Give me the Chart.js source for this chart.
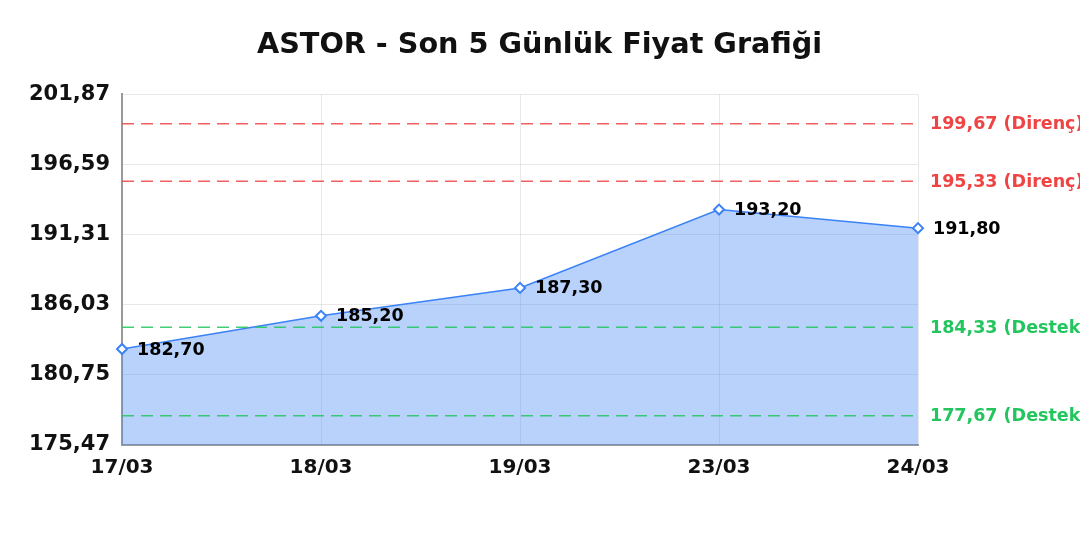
<!DOCTYPE html>
<html>
<head>
<meta charset="utf-8">
<script src="https://cdn.jsdelivr.net/npm/chart.js@4"></script>
<style>
html,body{margin:0;padding:0;background:#fff;}
#wrap{width:1080px;height:540px;}
</style>
</head>
<body>
<div id="wrap"><canvas id="c" width="1080" height="540"></canvas></div>
<script>
const titleText = 'ASTOR - Son 5 Günlük Fiyat Grafiği';
const categories = ['17/03', '18/03', '19/03', '23/03', '24/03'];
const prices = [182.70, 185.20, 187.30, 193.20, 191.80];
const yTicks = [175.47, 180.75, 186.03, 191.31, 196.59, 201.87];
const resistanceLevels = [199.67, 195.33];
const supportLevels = [184.33, 177.67];

const fmt = v => v.toFixed(2).replace('.', ',');
const FONT = "DejaVu Sans, Verdana, sans-serif";
const RED = '#ef4444';
const GREEN = '#22c55e';
const BLUE = '#3b82f6';

const levelDatasets = [];
resistanceLevels.forEach(l => levelDatasets.push({
  label: fmt(l) + ' (Direnç)', data: categories.map(() => l), levelValue: l, levelColor: RED,
  borderColor: 'rgba(239,68,68,0.85)', borderWidth: 1.5, borderDash: [12, 7], pointRadius: 0, fill: false, order: 0
}));
supportLevels.forEach(l => levelDatasets.push({
  label: fmt(l) + ' (Destek)', data: categories.map(() => l), levelValue: l, levelColor: GREEN,
  borderColor: 'rgba(34,197,94,0.85)', borderWidth: 1.5, borderDash: [12, 7], pointRadius: 0, fill: false, order: 0
}));

const labelsPlugin = {
  id: 'labelsPlugin',
  afterDatasetsDraw(chart) {
    const ctx = chart.ctx;
    const y = chart.scales.y;
    const area = chart.chartArea;
    ctx.save();
    const meta = chart.getDatasetMeta(0);
    ctx.font = "bold 17.5px " + FONT;
    ctx.fillStyle = '#000';
    ctx.textAlign = 'left';
    ctx.textBaseline = 'middle';
    meta.data.forEach((pt, i) => {
      ctx.fillText(fmt(prices[i]), pt.x + 15, pt.y + 1);
    });
    chart.data.datasets.forEach(ds => {
      if (ds.levelValue === undefined) return;
      ctx.fillStyle = ds.levelColor;
      ctx.fillText(ds.label, area.right + 12, y.getPixelForValue(ds.levelValue) + 1);
    });
    ctx.restore();
  }
};

new Chart(document.getElementById('c'), {
  type: 'line',
  data: {
    labels: categories,
    datasets: [{
      label: 'Fiyat',
      data: prices,
      borderColor: BLUE,
      borderWidth: 1.5,
      backgroundColor: 'rgba(59,130,246,0.36)',
      fill: 'start',
      tension: 0,
      pointStyle: 'rectRot',
      pointRadius: 5,
      pointBorderWidth: 2,
      pointBackgroundColor: '#fff',
      pointBorderColor: BLUE,
      order: 1
    }, ...levelDatasets]
  },
  options: {
    responsive: false,
    animation: false,
    layout: { padding: { left: 17, right: 18, top: 0, bottom: 49 } },
    plugins: {
      legend: { display: false },
      tooltip: { enabled: false },
      title: {
        display: true, text: titleText, color: '#111',
        font: { family: FONT, size: 28.7, weight: 'bold' },
        padding: { top: 28, bottom: 32 }
      }
    },
    scales: {
      x: {
        offset: false,
        grid: { color: 'rgba(0,0,0,0.09)', drawTicks: false },
        border: { color: '#999', width: 2 },
        ticks: { color: '#111', font: { family: FONT, size: 20, weight: 'bold' }, padding: 11, maxRotation: 0 }
      },
      y: {
        min: yTicks[0], max: yTicks[yTicks.length - 1],
        afterBuildTicks: s => { s.ticks = yTicks.map(v => ({ value: v })); },
        grid: { color: 'rgba(0,0,0,0.09)', drawTicks: false },
        border: { color: '#999', width: 2 },
        ticks: { color: '#111', font: { family: FONT, size: 21, weight: 'bold' }, padding: 12,
          callback: v => fmt(v) }
      },
      yLabels: {
        type: 'linear', position: 'right', display: true,
        min: yTicks[0], max: yTicks[yTicks.length - 1],
        grid: { display: false, drawTicks: false },
        border: { display: false },
        ticks: { display: false },
        afterFit: s => { s.width = 144; }
      }
    }
  },
  plugins: [labelsPlugin]
});
</script>
</body>
</html>
